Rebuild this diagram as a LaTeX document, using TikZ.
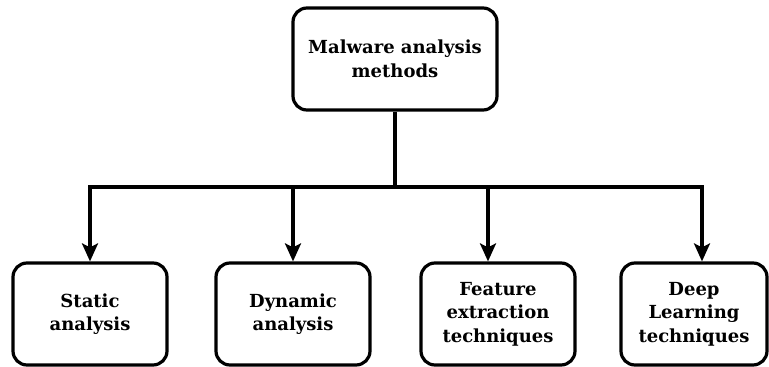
\documentclass[tikz,border=0pt]{standalone}
\usepackage{fontspec}
\setmainfont{DejaVu Serif}
\usetikzlibrary{arrows.meta}
\begin{document}
\begin{tikzpicture}[x=1pt,y=-1pt,
  box/.style={draw, line width=3.2pt, rounded corners=14pt, minimum width=154pt,
    minimum height=102pt, align=center, inner sep=0pt,
    font=\bfseries\fontsize{18}{23.5}\selectfont},
  conn/.style={line width=3.2pt, line join=miter},
  arr/.style={conn, -{Stealth[length=18pt,width=16pt,inset=4pt]}}]
\useasboundingbox (0,0) rectangle (769,367);
\node[box, minimum width=204pt] (top) at (395,59) {Malware analysis\\methods};
\node[box] (b1) at (90,314) {Static\\analysis};
\node[box] (b2) at (293,314) {Dynamic\\analysis};
\node[box] (b3) at (498,314) {Feature\\extraction\\techniques};
\node[box, minimum width=146pt] (b4) at (694,314) {Deep\\Learning\\techniques};
\coordinate (j) at (395,187);
\coordinate (x1) at (90,187);
\coordinate (x2) at (293,187);
\coordinate (x3) at (488,187);
\coordinate (x4) at (702,187);
\draw[conn, line width=4.4pt] (top.south) -- (j);
\draw[arr] (j) -| (b1.north -| x1);
\draw[arr] (j) -| (b2.north -| x2);
\draw[arr] (j) -| (b3.north -| x3);
\draw[arr] (j) -| (b4.north -| x4);
\end{tikzpicture}
\end{document}
